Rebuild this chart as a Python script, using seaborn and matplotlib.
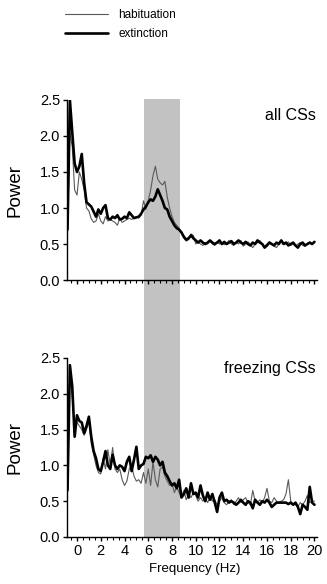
import numpy as np
import pandas as pd
import matplotlib
matplotlib.use("Agg")
import matplotlib.pyplot as plt
import matplotlib.transforms as mtransforms
from matplotlib.patches import Rectangle
from matplotlib.ticker import MultipleLocator
import seaborn as sns

# ---------------- data ----------------
freq = np.round(np.arange(-0.8, 20.01, 0.2), 2)  # frequency grid (Hz)

all_hab = [
    0.65, 2.05, 1.85, 1.25, 1.18,
    1.50, 1.40, 1.25, 1.00, 0.96,
    0.85, 0.80, 0.82, 0.92, 0.82,
    0.78, 0.88, 0.82, 0.84, 0.82,
    0.80, 0.76, 0.86, 0.80, 0.82,
    0.84, 0.86, 0.84, 0.86, 0.88,
    0.86, 0.90, 1.10, 0.98, 1.10,
    1.25, 1.45, 1.58, 1.40, 1.35,
    1.32, 1.37, 1.15, 1.00, 0.88,
    0.80, 0.76, 0.72, 0.65, 0.58,
    0.54, 0.56, 0.64, 0.62, 0.50,
    0.53, 0.50, 0.48, 0.52, 0.50,
    0.54, 0.50, 0.48, 0.53, 0.50,
    0.52, 0.49, 0.51, 0.55, 0.50,
    0.48, 0.52, 0.50, 0.55, 0.47,
    0.50, 0.53, 0.49, 0.45, 0.50,
    0.52, 0.55, 0.50, 0.47, 0.50,
    0.53, 0.50, 0.47, 0.45, 0.50,
    0.55, 0.52, 0.50, 0.53, 0.48,
    0.50, 0.47, 0.50, 0.52, 0.48,
    0.47, 0.50, 0.52, 0.50, 0.53,
]
all_ext = [
    0.70, 2.50, 2.05, 1.62, 1.50,
    1.58, 1.75, 1.35, 1.08, 1.05,
    1.02, 0.95, 0.88, 0.98, 0.92,
    1.00, 1.04, 0.86, 0.84, 0.88,
    0.86, 0.90, 0.84, 0.85, 0.88,
    0.86, 0.94, 0.90, 0.86, 0.87,
    0.88, 0.92, 0.98, 1.02, 1.08,
    1.12, 1.10, 1.16, 1.26, 1.18,
    1.10, 1.00, 0.98, 0.88, 0.82,
    0.76, 0.72, 0.70, 0.66, 0.60,
    0.56, 0.58, 0.62, 0.58, 0.55,
    0.52, 0.55, 0.52, 0.50, 0.52,
    0.55, 0.52, 0.50, 0.52, 0.55,
    0.50, 0.53, 0.50, 0.52, 0.54,
    0.50, 0.52, 0.55, 0.52, 0.50,
    0.53, 0.50, 0.48, 0.52, 0.50,
    0.55, 0.52, 0.50, 0.45, 0.48,
    0.52, 0.50, 0.48, 0.52, 0.50,
    0.55, 0.50, 0.52, 0.48, 0.50,
    0.52, 0.48, 0.45, 0.50, 0.52,
    0.48, 0.50, 0.52, 0.50, 0.53,
]
frz_hab = [
    0.70, 2.35, 1.95, 1.50, 1.60,
    1.55, 1.50, 1.42, 1.50, 1.62,
    1.30, 1.15, 1.00, 0.90, 0.88,
    1.10, 0.95, 1.22, 1.00, 1.25,
    0.95, 0.90, 0.95, 0.80, 0.72,
    0.78, 0.95, 1.00, 0.85, 0.78,
    0.80, 0.75, 0.90, 0.75, 0.95,
    0.72, 1.05, 0.80, 0.70, 0.95,
    0.98, 0.85, 0.78, 0.72, 0.75,
    0.62, 0.70, 0.62, 0.55, 0.65,
    0.52, 0.60, 0.55, 0.62, 0.58,
    0.50, 0.55, 0.50, 0.55, 0.48,
    0.55, 0.50, 0.52, 0.45, 0.50,
    0.55, 0.48, 0.45, 0.50, 0.52,
    0.45, 0.50, 0.55, 0.48, 0.52,
    0.55, 0.48, 0.45, 0.65, 0.50,
    0.48, 0.52, 0.48, 0.55, 0.68,
    0.50, 0.48, 0.55, 0.50, 0.48,
    0.50, 0.52, 0.60, 0.80, 0.50,
    0.46, 0.45, 0.42, 0.48, 0.45,
    0.50, 0.58, 0.48, 0.50, 0.50,
]
frz_ext = [
    0.65, 2.40, 2.10, 1.40, 1.70,
    1.62, 1.60, 1.45, 1.55, 1.68,
    1.40, 1.20, 1.10, 0.95, 0.92,
    1.05, 1.20, 1.00, 0.95, 1.15,
    1.00, 0.95, 1.00, 0.98, 0.92,
    1.05, 1.12, 0.92, 1.08, 1.26,
    0.95, 1.00, 1.02, 1.12, 1.10,
    1.14, 1.05, 1.12, 1.08, 1.00,
    1.05, 0.90, 0.85, 0.78, 0.72,
    0.75, 0.68, 0.80, 0.55, 0.60,
    0.68, 0.55, 0.75, 0.60, 0.62,
    0.55, 0.72, 0.58, 0.50, 0.62,
    0.52, 0.60, 0.48, 0.35, 0.55,
    0.62, 0.50, 0.52, 0.48, 0.50,
    0.48, 0.45, 0.48, 0.52, 0.48,
    0.45, 0.50, 0.48, 0.40, 0.52,
    0.48, 0.45, 0.50, 0.48, 0.52,
    0.48, 0.42, 0.45, 0.48, 0.48,
    0.48, 0.48, 0.48, 0.46, 0.48,
    0.45, 0.48, 0.42, 0.32, 0.45,
    0.42, 0.38, 0.70, 0.48, 0.45,
]

conditions = ["habituation", "extinction"]
panels = ["all CSs", "freezing CSs"]
yticks = [0.0, 0.5, 1.0, 1.5, 2.0, 2.5]
xticks = [0, 2, 4, 6, 8, 10, 12, 14, 16, 18, 20]
band = (5.6, 8.65)

def long_df(hab, ext):
    return pd.concat([
        pd.DataFrame({"freq": freq, "power": hab, "cond": "habituation"}),
        pd.DataFrame({"freq": freq, "power": ext, "cond": "extinction"}),
    ], ignore_index=True)

dfs = [long_df(all_hab, all_ext), long_df(frz_hab, frz_ext)]

# ---------------- style ----------------
sns.set_theme(style="ticks")
plt.rcParams["font.family"] = ["Liberation Sans", "DejaVu Sans"]
plt.rcParams.update({"text.color": "black", "axes.labelcolor": "black",
                     "xtick.color": "black", "ytick.color": "black"})

fig = plt.figure(figsize=(3.27, 5.84), dpi=100)
ax1 = fig.add_axes([0.205, 0.5205, 0.764, 0.3083])
ax2 = fig.add_axes([0.205, 0.0805, 0.764, 0.3065])
axes = [ax1, ax2]

palette = {"habituation": "#5a5a5a", "extinction": "#000000"}
sizes = {"habituation": 0.8, "extinction": 1.9}

for i, (ax, df) in enumerate(zip(axes, dfs)):
    ax.set_facecolor("none")
    sns.lineplot(data=df, x="freq", y="power", hue="cond", size="cond",
                 hue_order=conditions, size_order=conditions,
                 palette=palette, sizes=sizes, ax=ax,
                 legend=(i == 0))
    ax.set_xlim(-0.84, 20.2)
    ax.set_ylim(0, 2.5)
    ax.set_yticks(yticks)
    ax.set_yticklabels([f"{v:.1f}" for v in yticks], fontsize=10.5)
    ax.set_xticks(xticks)
    ax.xaxis.set_minor_locator(MultipleLocator(0.5))
    ax.tick_params(axis="both", which="major", length=3, width=1, color="black",
                   labelcolor="black", pad=2)
    ax.tick_params(axis="x", which="minor", length=2, width=0.8, color="black")
    sns.despine(ax=ax)
    for s in ["left", "bottom"]:
        ax.spines[s].set_color("black")
        ax.spines[s].set_linewidth(1.0)
    ax.set_ylabel("Power", fontsize=13.5, color="black")
    ax.yaxis.set_label_coords(-0.175, 0.5)
    ax.set_xlabel("")

ax1.set_xticklabels([])
ax2.set_xticklabels([str(t) for t in xticks], fontsize=10.5)
ax2.set_xlabel("Frequency (Hz)", fontsize=9.5, color="black")
ax2.xaxis.set_label_coords(0.51, -0.145)

ax1.text(0.995, 0.915, panels[0], transform=ax1.transAxes, ha="right",
         va="center", fontsize=11.5, color="black")
ax2.text(0.995, 0.94, panels[1], transform=ax2.transAxes, ha="right",
         va="center", fontsize=11.5, color="black")

# shaded frequency band spanning both panels
trans = mtransforms.blended_transform_factory(ax1.transData, fig.transFigure)
rect = Rectangle((band[0], 0.0805), band[1] - band[0], 0.8305 - 0.0805,
                 transform=trans, facecolor="#c2c2c2", edgecolor="none",
                 zorder=-1)
fig.patches.append(rect)

# legend at top
sns.move_legend(ax1, "upper left", bbox_to_anchor=(-0.04, 1.55),
                frameon=False, title=None, fontsize=8.5,
                handlelength=3.6, handletextpad=0.9, labelspacing=0.55,
                borderpad=0.2)
for t in ax1.get_legend().get_texts():
    t.set_color("black")

fig.savefig("out.png", dpi=100)
